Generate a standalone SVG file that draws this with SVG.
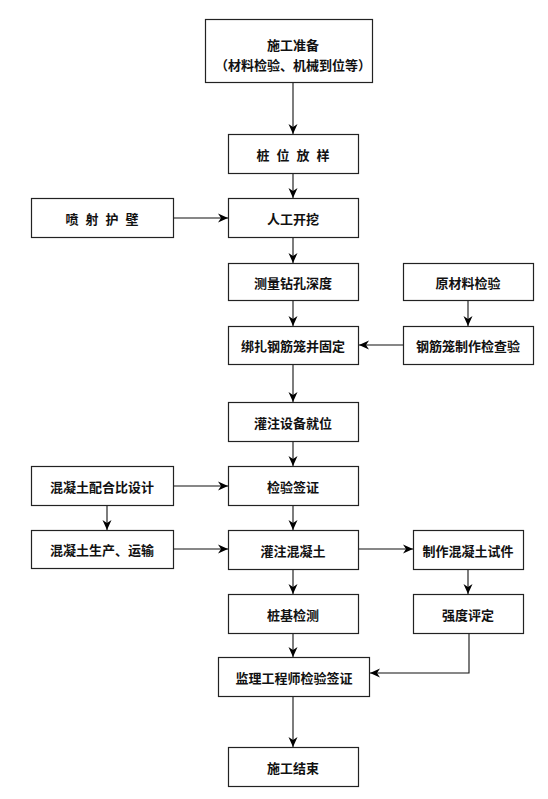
<svg xmlns="http://www.w3.org/2000/svg" width="548" height="799" viewBox="0 0 548 799">
<defs>
<marker id="ah" markerWidth="10" markerHeight="10" viewBox="0 0 10 10" refX="10" refY="5" orient="auto" markerUnits="userSpaceOnUse">
<path d="M0,0.5 L10,5 L0,9.5 L3,5 z" fill="#000"/>
</marker>
<style>
.b{fill:#fff;stroke:#222;stroke-width:1.2}
.t{font-family:"Noto Sans CJK SC","Noto Sans CJK JP",sans-serif;font-size:13px;font-weight:bold;fill:#111;text-anchor:middle;dominant-baseline:central}
.s{letter-spacing:2px}
.c{fill:none;stroke:#111;stroke-width:1.1;marker-end:url(#ah)}
</style>
</defs>
<rect width="548" height="799" fill="#fff"/>
<g id="n1"><rect class="b" x="205.5" y="19.5" width="167" height="63"/><text class="t" x="293" y="44">施工准备</text><text class="t" x="293" y="64">（材料检验、机械到位等）</text></g>
<g id="n2"><rect class="b" x="228.5" y="134.5" width="130" height="39"/><text class="t s" x="294" y="154">桩 位 放 样</text></g>
<g id="n3"><rect class="b" x="31.5" y="198.5" width="142" height="39"/><text class="t s" x="103" y="218">喷 射 护 壁</text></g>
<g id="n4"><rect class="b" x="228.5" y="198.5" width="130" height="39"/><text class="t" x="293" y="218">人工开挖</text></g>
<g id="n5"><rect class="b" x="228.5" y="263.5" width="130" height="37"/><text class="t" x="293" y="282">测量钻孔深度</text></g>
<g id="n6"><rect class="b" x="403.5" y="263.5" width="130" height="37"/><text class="t" x="468" y="282">原材料检验</text></g>
<g id="n7"><rect class="b" x="228.5" y="326.5" width="130" height="38"/><text class="t" x="293" y="345">绑扎钢筋笼并固定</text></g>
<g id="n8"><rect class="b" x="403.5" y="326.5" width="130" height="38"/><text class="t" x="468" y="345">钢筋笼制作检查验</text></g>
<g id="n9"><rect class="b" x="228.5" y="402.5" width="130" height="39"/><text class="t" x="293" y="422">灌注设备就位</text></g>
<g id="n10"><rect class="b" x="31.5" y="466.5" width="142" height="39"/><text class="t" x="102" y="486">混凝土配合比设计</text></g>
<g id="n11"><rect class="b" x="228.5" y="466.5" width="130" height="39"/><text class="t" x="293" y="486">检验签证</text></g>
<g id="n12"><rect class="b" x="31.5" y="530.5" width="142" height="38"/><text class="t" x="102" y="549">混凝土生产、运输</text></g>
<g id="n13"><rect class="b" x="228.5" y="530.5" width="130" height="39"/><text class="t" x="293" y="550">灌注混凝土</text></g>
<g id="n14"><rect class="b" x="413.5" y="530.5" width="110" height="39"/><text class="t" x="468" y="550">制作混凝土试件</text></g>
<g id="n15"><rect class="b" x="228.5" y="594.5" width="130" height="39"/><text class="t" x="293" y="614">桩基检测</text></g>
<g id="n16"><rect class="b" x="413.5" y="594.5" width="110" height="39"/><text class="t" x="468" y="614">强度评定</text></g>
<g id="n17"><rect class="b" x="218.5" y="657.5" width="151" height="39"/><text class="t" x="294" y="677">监理工程师检验签证</text></g>
<g id="n18"><rect class="b" x="228.5" y="747.5" width="130" height="39"/><text class="t" x="293" y="767">施工结束</text></g>
<g id="connectors">
<path class="c" d="M293,83 V134"/>
<path class="c" d="M293,174 V198"/>
<path class="c" d="M174,218 H228"/>
<path class="c" d="M293,238 V263"/>
<path class="c" d="M293,301 V326"/>
<path class="c" d="M468,301 V326"/>
<path class="c" d="M403,345 H359"/>
<path class="c" d="M293,365 V402"/>
<path class="c" d="M293,442 V466"/>
<path class="c" d="M174,486 H228"/>
<path class="c" d="M107,506 V530"/>
<path class="c" d="M174,549 H228"/>
<path class="c" d="M293,506 V530"/>
<path class="c" d="M359,549 H413"/>
<path class="c" d="M293,570 V594"/>
<path class="c" d="M468,570 V594"/>
<path class="c" d="M293,634 V657"/>
<path class="c" d="M469,634 V673 H370"/>
<path class="c" d="M293,697 V747"/>
</g>
</svg>
